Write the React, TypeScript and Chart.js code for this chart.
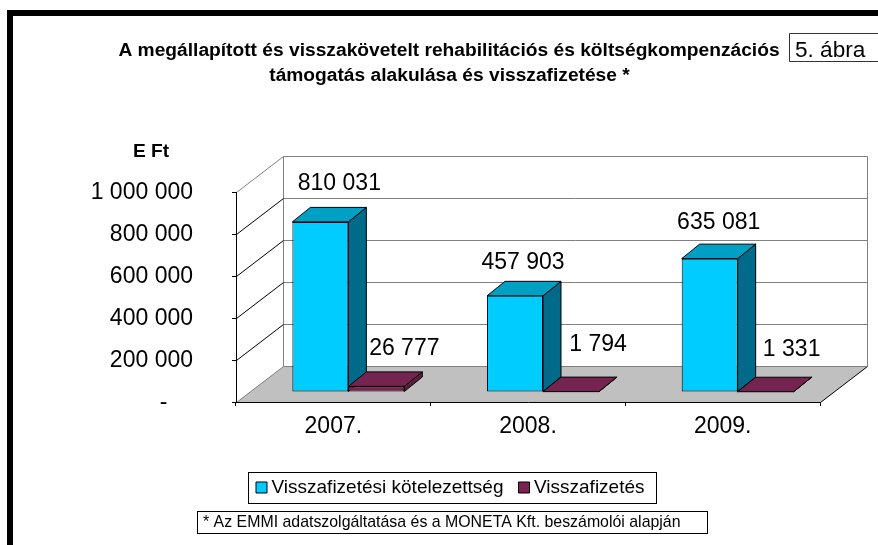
import React, { useEffect, useRef } from "react";
import { Chart, registerables } from "chart.js";

Chart.register(...registerables);

const categories = ["2007.", "2008.", "2009."];
const obligationValues = [810031, 457903, 635081];
const repaymentValues = [26777, 1794, 1331];
const obligationLabelNudges = [[19, -38], [8, -33], [9, -36]];
const repaymentLabelNudges = [[28, -38], [27, -47], [26, -42]];
const seriesNames = ["Visszafizetési kötelezettség", "Visszafizetés"];
const titleLines = [
  "A megállapított és visszakövetelt rehabilitációs és költségkompenzációs",
  "támogatás alakulása és visszafizetése *",
];
const unitLabel = "E Ft";
const figureLabel = "5. ábra";
const footnote = "* Az EMMI adatszolgáltatása és a MONETA Kft. beszámolói alapján";

const FONT = '"Liberation Sans", Arial, sans-serif';
const WALL_DX = 47;
const WALL_DY = 36;
const BAR_DX = 15;
const BAR_DY = 10;
const DEPTH_X = 18;
const DEPTH_Y = 14.5;
const faceColors = [
  { side: "#006A8A", top: "#00A0C4" },
  { side: "#5E1C41", top: "#74244F" },
];

const fmt = (v: number) => String(v).replace(/\B(?=(\d{3})+(?!\d))/g, " ");

function poly(ctx: CanvasRenderingContext2D, pts: number[][], fill: string | null, stroke: string | null) {
  ctx.beginPath();
  pts.forEach((p, i) => (i ? ctx.lineTo(p[0], p[1]) : ctx.moveTo(p[0], p[1])));
  ctx.closePath();
  if (fill) {
    ctx.fillStyle = fill;
    ctx.fill();
  }
  if (stroke) {
    ctx.strokeStyle = stroke;
    ctx.lineWidth = 1;
    ctx.stroke();
  }
}

function line(ctx: CanvasRenderingContext2D, x1: number, y1: number, x2: number, y2: number, color: string) {
  ctx.beginPath();
  ctx.moveTo(x1, y1);
  ctx.lineTo(x2, y2);
  ctx.strokeStyle = color;
  ctx.lineWidth = 1;
  ctx.stroke();
}

const scenePlugin = {
  id: "scene",
  afterLayout(chart: any) {
    const lg = chart.legend;
    lg.left = 241;
    lg.right = 700;
    lg.width = 459;
    lg.top = 458;
    lg.bottom = 520;
    lg.height = 62;
  },
  beforeDraw(chart: any) {
    const { ctx, chartArea: a, scales } = chart;
    ctx.save();
    ctx.fillStyle = "#ffffff";
    ctx.fillRect(0, 0, chart.width, chart.height);
    // page frame
    ctx.fillStyle = "#000000";
    ctx.fillRect(7, 10, 871, 6);
    ctx.fillRect(7, 10, 6, 535);

    const l = a.left + 0.5;
    const r = a.right + 0.5;
    const b = a.bottom + 0.5;
    const y = scales.y;
    const top = Math.round(y.getPixelForValue(1000000)) + 0.5;
    // back wall
    poly(ctx, [[l + WALL_DX, top - WALL_DY], [r + WALL_DX, top - WALL_DY], [r + WALL_DX, b - WALL_DY], [l + WALL_DX, b - WALL_DY]], "#ffffff", "#808080");
    // floor
    poly(ctx, [[l, b], [r, b], [r + WALL_DX, b - WALL_DY], [l + WALL_DX, b - WALL_DY]], "#C0C0C0", null);
    line(ctx, l, b, l + WALL_DX, b - WALL_DY, "#808080");
    line(ctx, r, b, r + WALL_DX, b - WALL_DY, "#000000");
    line(ctx, l + WALL_DX, b - WALL_DY, r + WALL_DX, b - WALL_DY, "#808080");
    // grid lines
    y.ticks.forEach((t: any) => {
      if (t.value === 0) return;
      const py = Math.round(y.getPixelForValue(t.value)) + 0.5;
      line(ctx, l + WALL_DX, py - WALL_DY, r + WALL_DX, py - WALL_DY, "#808080");
      line(ctx, l, py, l + WALL_DX, py - WALL_DY, t.value === 1000000 ? "#808080" : "#000000");
    });

    // texts
    ctx.fillStyle = "#000000";
    ctx.textBaseline = "middle";
    ctx.textAlign = "center";
    ctx.font = `bold 19.2px ${FONT}`;
    ctx.fillText(titleLines[0], 449, 51);
    ctx.fillText(titleLines[1], 449.5, 76);
    ctx.fillText(unitLabel, 151, 152);

    // figure box
    ctx.strokeStyle = "#333333";
    ctx.lineWidth = 1;
    ctx.beginPath();
    ctx.moveTo(878, 33.5);
    ctx.lineTo(789.5, 33.5);
    ctx.lineTo(789.5, 61.5);
    ctx.lineTo(878, 61.5);
    ctx.stroke();
    ctx.textAlign = "left";
    ctx.font = `22.6px ${FONT}`;
    ctx.fillText(figureLabel, 795, 51);

    // legend box
    ctx.strokeStyle = "#000000";
    ctx.strokeRect(248.5, 472.5, 408, 31);

    // footnote box
    ctx.strokeRect(197.5, 511.5, 510, 22);
    ctx.font = `15.9px ${FONT}`;
    ctx.fillText(footnote, 203, 523);
    ctx.restore();
  },
  beforeDatasetsDraw(chart: any) {
    const { ctx } = chart;
    ctx.save();
    ctx.translate(BAR_DX, -BAR_DY);
    categories.forEach((_, i) => {
      [0, 1].forEach((ds) => {
        const el = chart.getDatasetMeta(ds).data[i];
        const x0 = el.x - el.width / 2;
        const x1 = el.x + el.width / 2;
        const yT = el.y;
        const yB = el.base;
        poly(ctx, [[x1, yT], [x1 + DEPTH_X, yT - DEPTH_Y], [x1 + DEPTH_X, yB - DEPTH_Y], [x1, yB]], faceColors[ds].side, "#000000");
        poly(ctx, [[x0, yT], [x1, yT], [x1 + DEPTH_X, yT - DEPTH_Y], [x0 + DEPTH_X, yT - DEPTH_Y]], faceColors[ds].top, "#000000");
      });
    });
  },
  afterDatasetsDraw(chart: any) {
    const { ctx } = chart;
    ctx.restore();
    ctx.save();
    ctx.fillStyle = "#000000";
    ctx.font = `23px ${FONT}`;
    ctx.textAlign = "center";
    ctx.textBaseline = "middle";
    [obligationValues, repaymentValues].forEach((vals, ds) => {
      const nudges = ds === 0 ? obligationLabelNudges : repaymentLabelNudges;
      vals.forEach((v, i) => {
        const el = chart.getDatasetMeta(ds).data[i];
        ctx.fillText(fmt(v), el.x + BAR_DX + nudges[i][0], el.y - BAR_DY + nudges[i][1]);
      });
    });
    ctx.restore();
  },
};

export default function App() {
  const ref = useRef<HTMLCanvasElement>(null);
  useEffect(() => {
    document.body.style.margin = "0";
    const chart = new Chart(ref.current as HTMLCanvasElement, {
      type: "bar",
      data: {
        labels: categories,
        datasets: [
          {
            label: seriesNames[0],
            data: obligationValues,
            backgroundColor: "#00CCFF",
            borderColor: "#000000",
            borderWidth: 1,
            borderSkipped: false,
            clip: false,
          },
          {
            label: seriesNames[1],
            data: repaymentValues,
            backgroundColor: "#7A2353",
            borderColor: "#000000",
            borderWidth: 1,
            borderSkipped: false,
            clip: false,
          },
        ] as any,
      },
      options: {
        responsive: false,
        animation: false,
        layout: { padding: { left: 0, right: 58, top: 192, bottom: 0 } },
        datasets: { bar: { barPercentage: 1, categoryPercentage: 0.575 } },
        scales: {
          x: {
            border: { color: "#000000" },
            grid: { drawOnChartArea: false, tickLength: 4, tickColor: "#000000" },
            ticks: { color: "#000000", padding: 7, font: { family: FONT, size: 23 }, maxRotation: 0 },
            afterFit: (s: any) => {
              s.height = 133;
            },
          },
          y: {
            min: 0,
            max: 1000000,
            border: { color: "#000000" },
            grid: { drawOnChartArea: false, tickLength: 4, tickColor: "#000000" },
            ticks: {
              stepSize: 200000,
              color: "#000000",
              padding: 39,
              labelOffset: 1,
              font: { family: FONT, size: 23 },
              callback: (v: any) => (v === 0 ? "-\u00A0\u00A0\u00A0\u00A0" : fmt(v)),
            },
            afterFit: (s: any) => {
              s.width = 236;
            },
          },
        },
        plugins: {
          title: { display: false },
          tooltip: { enabled: false },
          legend: {
            display: true,
            position: "bottom",
            align: "start",
            maxHeight: 10,
            labels: {
              usePointStyle: true,
              pointStyle: "rect",
              boxWidth: 1,
              boxHeight: 11,
              padding: 20,
              color: "#000000",
              font: { family: FONT, size: 19 },
            },
          },
        },
      } as any,
      plugins: [scenePlugin],
    });
    return () => chart.destroy();
  }, []);
  return (
    <div style={{ position: "absolute", left: 0, top: 0, width: 878, height: 545 }}>
      <canvas ref={ref} width={878} height={545} style={{ display: "block" }} />
    </div>
  );
}
